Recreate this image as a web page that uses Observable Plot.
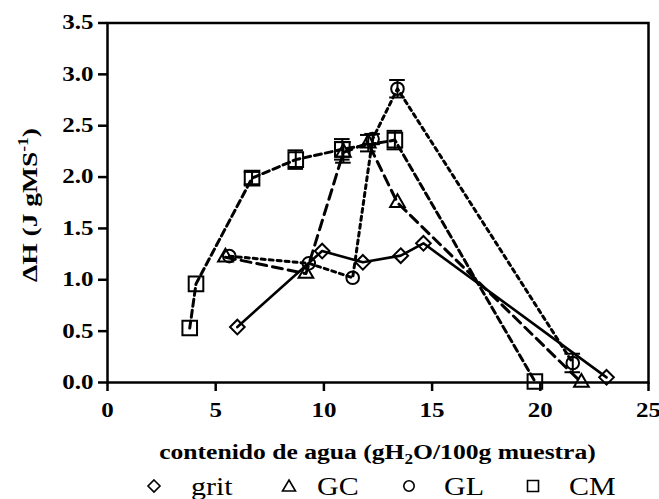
<!DOCTYPE html>
<html><head><meta charset="utf-8">
<script src="https://cdn.jsdelivr.net/npm/d3@7"></script>
<script src="https://cdn.jsdelivr.net/npm/@observablehq/plot@0.6"></script>
<style>
body{margin:0;background:#fff;}
#chart{position:relative;width:659px;height:499px;overflow:hidden;}
</style></head><body><div id="chart"></div>
<script>
// ---- data ----
const seriesNames = ["grit", "GC", "GL", "CM"];
const gritX = [6.0, 9.92, 11.8, 13.55, 14.6, 23.06];
const gritY = [0.54, 1.28, 1.17, 1.235, 1.355, 0.05];
const gcX = [5.45, 9.17, 10.9, 12.05, 13.4, 21.9];
const gcY = [1.22, 1.06, 2.24, 2.33, 1.75, 0.0];
const gcErr = [0, 0, 0.1, 0.08, 0, 0];
const glX = [5.63, 9.3, 11.33, 12.25, 13.4, 21.5];
const glY = [1.23, 1.16, 1.02, 2.37, 2.86, 0.19];
const glErr = [0, 0, 0, 0.05, 0.085, 0.09];
const cmX = [3.8, 4.09, 6.68, 8.7, 10.85, 13.28, 19.75];
const cmY = [0.53, 0.96, 1.99, 2.17, 2.27, 2.36, 0.01];
const cmErr = [0, 0, 0.06, 0.09, 0.1, 0.09, 0];
const xTicks = [0, 5, 10, 15, 20, 25];
const yTicks = [0, 0.5, 1, 1.5, 2, 2.5, 3, 3.5];

function rows(X, Y, E) { return X.map((x, i) => ({x, y: Y[i], e: E ? E[i] : 0})); }

const series = [
  {name: seriesNames[0], data: rows(gritX, gritY), dash: null, symbol: "diamond2", r: 6.6, sw: 2.6},
  {name: seriesNames[1], data: rows(gcX, gcY, gcErr), dash: "10,6", symbol: "triangle2", r: 7.0, sw: 3},
  {name: seriesNames[2], data: rows(glX, glY, glErr), dash: "4,4", symbol: "circle", r: 6.3, sw: 3},
  {name: seriesNames[3], data: rows(cmX, cmY, cmErr), dash: "7,4", symbol: "square2", r: 9.3, sw: 3}
];

const marks = [];
for (const s of series) {
  marks.push(Plot.line(s.data, {x: "x", y: "y", stroke: "black", strokeWidth: s.sw, strokeDasharray: s.dash}));
}
for (const s of series) {
  const eb = s.data.filter(d => d.e > 0);
  marks.push(Plot.ruleX(eb, {x: "x", y1: d => d.y - d.e, y2: d => d.y + d.e, stroke: "black", strokeWidth: 2}));
  const caps = eb.flatMap(d => [{x: d.x, y: d.y - d.e}, {x: d.x, y: d.y + d.e}]);
  marks.push(Plot.ruleY(caps, {y: "y", x1: d => d.x - 0.36, x2: d => d.x + 0.36, stroke: "black", strokeWidth: 2}));
  marks.push(Plot.dot(s.data, {x: "x", y: "y", symbol: s.symbol, r: s.r, stroke: "black", strokeWidth: 2, fill: "none"}));
}
marks.push(Plot.axisX({ticks: xTicks, tickSize: 9, tickPadding: 11, strokeWidth: 2.5, label: null, tickFormat: d => String(d)}));
marks.push(Plot.axisY({ticks: yTicks, tickSize: 9, tickPadding: 5, strokeWidth: 2.5, label: null, tickFormat: d3.format(".1f")}));
marks.push(Plot.frame({stroke: "black", strokeWidth: 2.5}));

const W = 659, H = 468;
const svgNode = Plot.plot({
  width: W, height: H,
  marginTop: 22.5, marginRight: 11, marginBottom: 86, marginLeft: 107,
  x: {domain: [0, 25]},
  y: {domain: [0, 3.5]},
  style: {fontFamily: "'Liberation Serif', 'Times New Roman', serif", fontSize: "20px", fontWeight: "bold", color: "black", background: "white", overflow: "visible"},
  marks
});
document.getElementById("chart").appendChild(svgNode);

const SX = 1.25;
svgNode.querySelectorAll("text").forEach(t => {
  t.setAttribute("transform", (t.getAttribute("transform") || "") + ` scale(${SX},1)`);
});

const svg = d3.select(svgNode);
// x axis title
const xl = svg.append("text")
  .attr("transform", `translate(377.5,459) scale(1.22,1)`)
  .attr("text-anchor", "middle")
  .attr("font-family", "'Liberation Serif', 'Times New Roman', serif")
  .attr("font-size", 21).attr("font-weight", "bold").attr("fill", "black");
xl.append("tspan").text("contenido de agua (gH");
xl.append("tspan").attr("font-size", 14).attr("dy", 5).text("2");
xl.append("tspan").attr("dy", -5).text("O/100g muestra)");
// y axis title
const yl = svg.append("text")
  .attr("transform", `translate(37,205) rotate(-90) scale(1.25,1)`)
  .attr("text-anchor", "middle")
  .attr("font-family", "'Liberation Serif', 'Times New Roman', serif")
  .attr("font-size", 22).attr("font-weight", "bold").attr("fill", "black");
yl.append("tspan").text("\u0394H (J gMS");
yl.append("tspan").attr("font-size", 14).attr("dy", -9).text("-1");
yl.append("tspan").attr("dy", 9).text(")");

// legend below the plot
const leg = d3.select("#chart").append("svg")
  .attr("width", W).attr("height", 31)
  .style("position", "absolute").style("left", "0px").style("top", H + "px")
  .style("font-family", "'Liberation Serif', 'Times New Roman', serif");
const legItems = [
  {name: seriesNames[0], cx: 154, tx: 191, type: "diamond"},
  {name: seriesNames[1], cx: 289, tx: 317, type: "triangle"},
  {name: seriesNames[2], cx: 409, tx: 444, type: "circle"},
  {name: seriesNames[3], cx: 533, tx: 569, type: "square"}
];
const cy = 18;
for (const it of legItems) {
  let p;
  if (it.type === "diamond") p = `M${it.cx},${cy-6}L${it.cx+6},${cy}L${it.cx},${cy+6}L${it.cx-6},${cy}Z`;
  if (it.type === "triangle") p = `M${it.cx},${cy-6}L${it.cx+6.5},${cy+5}L${it.cx-6.5},${cy+5}Z`;
  if (it.type === "square") p = `M${it.cx-5.5},${cy-5.5}h11v11h-11Z`;
  if (it.type === "circle") leg.append("circle").attr("cx", it.cx).attr("cy", cy).attr("r", 5.2).attr("fill", "none").attr("stroke", "black").attr("stroke-width", 1.6);
  else leg.append("path").attr("d", p).attr("fill", "none").attr("stroke", "black").attr("stroke-width", 1.6);
  leg.append("text").attr("transform", `translate(${it.tx},26.5) scale(1.2,1)`).attr("font-size", 25).attr("fill", "black").text(it.name);
}
</script></body></html>
